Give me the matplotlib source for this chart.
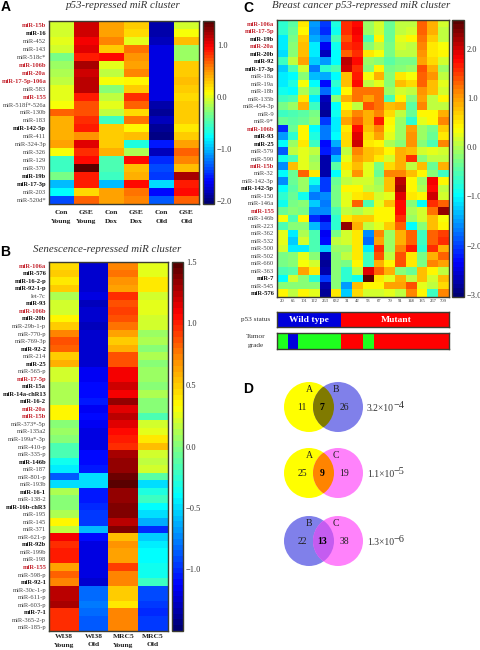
import numpy as np
import matplotlib
matplotlib.use("Agg")
import matplotlib.pyplot as plt
from matplotlib.colors import LinearSegmentedColormap, ListedColormap
from matplotlib.patches import Circle

W, H = 481, 650
SERIF = "Liberation Serif"
SANS = "Liberation Sans"
FRAME = "#3c3c30"
TXT = "#333333"
RED = "#c4222c"

# ---------- Panel A ----------
a_labels = ["miR-15b","miR-16","miR-452","miR-143","miR-518c*","miR-106b","miR-20a","miR-17-5p-106a",
            "miR-583","miR-155","miR-518f*-526a","miR-130b","miR-183","miR-142-5p","miR-411","miR-324-3p",
            "miR-326","miR-129","miR-370","miR-19b","miR-17-3p","miR-203","miR-520d*"]
a_red = {"miR-15b","miR-106b","miR-20a","miR-17-5p-106a","miR-155"}
a_bold = {"miR-16","miR-142-5p","miR-19b","miR-17-3p"}
a_cols = ["Con\nYoung","GSE\nYoung","Con\nDox","GSE\nDox","Con\nOld","GSE\nOld"]
a_vals = [
 [-.05,1.1,.45,.3,-1.85,-.05],[-.05,1.1,.45,.2,-1.85,.05],[0,1.0,.55,0,-1.8,.35],[-.05,1.05,.3,.6,-1.7,-.2],
 [-.3,.85,.95,.5,-1.7,-.2],[-.2,1.2,0,.45,-1.7,.3],[-.15,1.12,-.1,.55,-1.7,.3],[-.1,1.15,.08,.12,-1.7,.35],
 [.02,1.15,-.25,.3,-1.7,.3],[.02,.9,-.1,.8,-1.7,.22],[.05,.7,.02,.65,-1.85,.3],[.65,.7,-.1,.2,-1.9,.3],
 [.4,.8,-.55,.6,-1.8,.3],[.4,.85,.25,.1,-1.9,.18],[.4,.5,.3,.35,-1.95,.3],[.45,1.05,.25,-.65,-1.55,.45],
 [.08,.8,.4,-.15,-1.8,.65],[-.55,.95,-.5,.95,-1.45,.55],[-.55,1.4,-.5,.35,-1.35,.35],[-.35,.85,-.55,.4,-1.4,1.2],
 [-1.0,.88,-1.0,.95,-.9,.9],[-.75,.2,.45,.6,-1.6,.95],[-1.35,.65,.45,.55,-1.3,.65]]

# ---------- Panel B ----------
b_labels = ["miR-106a","miR-576","miR-16-2-p","miR-92-1-p","let-7c","miR-93","miR-106b","miR-20b","miR-29b-1-p",
            "miR-770-p","miR-769-3p","miR-92-2","miR-214","miR-25","miR-565-p","miR-17-5p","miR-15a","miR-14a-chR13",
            "miR-16-2","miR-20a","miR-15b","miR-373*-5p","miR-135a2","miR-199a*-3p","miR-410-p","miR-335-p","miR-146b",
            "miR-187","miR-801-p","miR-193b","miR-16-1","miR-138-2","miR-16b-chR3","miR-195","miR-145","miR-371",
            "miR-621-p","miR-92b","miR-199b","miR-198","miR-155","miR-598-p","miR-92-1","miR-30c-1-p","miR-611-p",
            "miR-603-p","miR-7-1","miR-365-2-p","miR-185-p"]
b_red = {"miR-106a","miR-106b","miR-17-5p","miR-20a","miR-15b","miR-155"}
b_bold = {"miR-576","miR-16-2-p","miR-92-1-p","miR-93","miR-20b","miR-92-2","miR-25","miR-15a","miR-14a-chR13",
          "miR-16-2","miR-146b","miR-16-1","miR-16b-chR3","miR-92b","miR-92-1","miR-7-1"}
b_cols = ["WI38\nYoung","WI38\nOld","MRC5\nYoung","MRC5\nOld"]
b_vals = [
 [.45,-1.25,.72,.28],[.48,-1.25,.75,.28],[.42,-1.25,.7,.42],[.5,-1.25,.65,.42],[.12,-1.2,.95,.22],[.22,-1.27,.88,.28],
 [.2,-1.22,.92,.28],[.36,-1.22,.88,.2],[.5,-1.27,.78,.2],[.72,-1.25,.65,.08],[.88,-1.22,.5,.12],[.82,-1.22,.6,.02],
 [.5,-1.22,.85,.1],[.6,-1.22,.85,.02],[.2,-1.15,1.1,.05],[.22,-1.15,1.12,.05],[.1,-1.1,1.2,.03],[.12,-1.1,1.12,.12],
 [.1,-1.05,1.35,0],[.36,-1.15,1.15,.02],[.36,-1.1,1.22,-.15],[0,-1.15,1.15,.22],[.05,-1.2,1.05,.28],[0,-1.2,1.0,.42],
 [-.15,-1.2,.98,.52],[-.15,-1.1,1.28,.2],[-.35,-1.1,1.32,.18],[-.45,-1.05,1.35,.22],[-.85,-.48,1.42,-.1],[-.5,-.5,1.47,-.5],
 [.12,-1.05,1.35,-.3],[0,-1.05,1.35,-.2],[.02,-1.0,1.38,-.4],[.1,-.95,1.38,-.5],[.36,-.95,1.25,-.65],[.15,-.6,1.38,-1.0],
 [1.1,-1.1,.55,-.55],[.95,-1.2,.7,-.45],[1.0,-1.2,.65,-.42],[1.0,-1.2,.65,-.4],[.65,-1.2,.92,-.35],[.8,-1.2,.72,-.33],
 [.72,-1.25,.72,-.2],[1.22,-.8,.48,-.92],[1.22,-.8,.5,-.92],[1.3,-.78,.38,-.95],[.98,-.8,.72,-1.0],[.98,-.88,.72,-.95],
 [.98,-.85,.72,-.95]]

# ---------- Panel C ----------
c_labels = ["miR-106a","miR-17-5p","miR-19b","miR-20a","miR-20b","miR-92","miR-17-3p","miR-18a","miR-19a","miR-18b",
            "miR-135b","miR-454-3p","miR-9","miR-9*","miR-106b","miR-93","miR-25","miR-579","miR-590","miR-15b","miR-32",
            "miR-142-3p","miR-142-5p","miR-150","miR-146a","miR-155","miR-146b","miR-223","miR-362","miR-532","miR-500",
            "miR-502","miR-660","miR-363","miR-7","miR-545","miR-576"]
c_red = {"miR-106a","miR-17-5p","miR-20a","miR-106b","miR-15b","miR-155"}
c_bold = {"miR-19b","miR-20b","miR-92","miR-17-3p","miR-93","miR-25","miR-142-5p","miR-7","miR-576"}
c_cols = ["20","65","101","122","263","632","31","42","53","67","79","91","148","185","267","709"]
c_vals = [
 [-.7,-.45,.5,-1.5,-2.0,-.8,1.6,1.75,-.05,.2,-.4,.05,.1,1.3,.85,.15],
 [-.75,-.4,.45,-1.55,-2.1,-.9,1.6,1.85,-.1,.2,-.4,.1,.2,1.3,.85,.1],
 [-1.1,-.25,.7,-1.45,-1.8,-.5,1.4,1.75,-.5,.4,-.35,.25,.4,1.2,.7,.1],
 [-1.1,-.2,.8,-1.05,-2.35,-.9,1.55,1.7,-.2,.1,-.3,.2,.05,1.1,.55,.35],
 [-1.15,-.15,.8,-1.1,-2.65,-.95,1.35,1.55,.55,.35,-.3,.1,.05,1.05,.55,.4],
 [-.6,.05,.95,-1.2,-1.5,-1.0,2.1,1.8,-.1,-.15,-.45,-.25,-.25,1.0,.6,.2],
 [-1.2,-.55,.15,-1.7,-.75,-.5,2.05,1.6,-.15,.45,-.3,-.15,-.1,1.4,.9,-.05],
 [-1.1,-1.0,-.2,-1.3,-1.45,-.95,.8,1.7,.35,.9,-.15,.55,.35,1.3,1.05,.05],
 [-1.1,-.8,.35,-1.0,-2.3,-.75,.8,1.75,.1,.3,-.2,.75,.65,1.35,.8,.3],
 [-.9,-1.0,0,-.55,-1.8,-1.0,.4,1.2,1.2,1.2,-.1,.2,.05,1.05,.8,.2],
 [-.65,-.55,.5,-1.1,-2.65,-.2,.85,1.25,1.0,1.25,-.55,.4,-.15,.95,.05,.4],
 [-.3,-.05,.9,-.6,-2.75,-1.0,.4,.05,1.4,1.2,.75,.9,-.45,1.1,.1,.05],
 [-.6,-.5,-.45,-.25,-2.8,-.9,.7,1.1,.85,1.1,.6,.1,-.4,.45,.45,.85],
 [-.4,-.45,-.4,-.15,-2.0,-1.1,1.0,1.35,.9,1.65,.45,-.05,-.75,.3,.4,1.1],
 [-2.1,-.35,.45,-1.0,-1.7,-1.05,.55,1.8,.8,1.1,.35,-.1,1.0,-.05,-.3,.7],
 [-1.5,-.75,.45,-.8,-1.65,-1.0,.6,1.95,.6,1.0,.3,-.05,1.05,-.1,-.4,.5],
 [-1.0,-.1,.5,-.6,-2.3,-1.4,.6,2.05,.5,.45,0,-.15,1.05,-.15,-.55,1.1],
 [-1.9,.1,.25,.05,-2.25,-1.9,.1,1.1,.8,.7,.45,.9,.8,.2,.25,.15],
 [-.85,-.5,.25,-.1,-2.75,-1.3,.25,1.0,.75,.5,.15,.9,1.55,-.15,.05,.1],
 [-1.6,.8,.3,0,-2.7,-.45,.55,.8,.3,-.3,.6,.9,.1,.8,-.4,.9],
 [-1.0,-.4,1.3,.5,-2.75,-.95,.3,1.05,.25,-.35,1.1,1.1,.8,.45,-.2,-.6],
 [-1.6,-.4,-.1,-.9,-2.0,-.35,.1,.2,.15,-.1,.75,2.1,.4,-.1,1.85,.45],
 [-1.0,-.45,-.1,-1.3,-2.0,-.3,.4,.4,.1,0,.8,2.2,.45,0,1.8,.1],
 [-.75,-.35,-.9,-1.7,-1.6,-.3,.25,.5,.65,.2,.3,1.9,.5,.4,2.05,.15],
 [-.9,-.3,-.2,-1.2,-1.7,-.3,.3,1.35,-.5,.25,.75,1.8,-.15,-1.0,1.6,1.3],
 [-.4,-.2,-.25,-1.6,-1.6,-.5,.05,0,.2,.4,.4,1.75,0,.15,1.25,2.3],
 [.35,-.55,.4,-2.1,-2.45,-.7,.5,.7,.7,.4,.4,1.6,-.05,.2,.8,.35],
 [-.5,-.2,-.2,-1.3,-2.0,-.7,2.3,.9,.05,.25,.7,1.3,-.95,-.15,.8,.4],
 [.3,-1.05,0,-.5,-2.4,-.3,.15,.5,-1.55,1.1,-.1,.9,1.35,-.6,1.3,1.5],
 [.25,-1.2,.15,-.5,-2.3,.1,.15,.5,-1.8,.95,-.1,.9,1.35,-.6,1.3,1.55],
 [.2,-1.1,-1.05,-.5,-1.25,-.1,-.1,.5,-1.1,1.55,-.1,1.15,1.65,-.7,1.55,.85],
 [-.3,-.2,.25,-.15,-2.75,-.15,.1,.5,-.6,1.4,.05,1.45,.55,-.25,.9,1.3],
 [-.3,-.2,.35,.15,-2.8,-.15,-.3,.45,-.6,.9,.4,1.4,.55,-.25,1.1,.95],
 [-.5,-.45,.95,.5,-2.75,-.15,-.7,.1,1.9,1.3,.85,-.15,-.35,.75,.45,.1],
 [-1.0,.2,-.15,-.7,-2.0,-.15,-.75,-.9,2.55,.5,.25,.9,.1,.8,.15,.8],
 [-.2,-.2,-.2,-.2,-2.7,-.2,-1.5,.8,.4,.4,.95,.95,1.4,.3,.05,.6],
 [.4,.1,.45,.3,-2.8,.55,-1.2,.65,.15,.2,.3,.05,1.1,.4,-.6,1.15]]
p53_status = [0]*6 + [1]*10
tumor_grade = [1,0,1,1,1,1,2,2,1,2,2,2,2,2,2,2]

# ---------- Panel D ----------
venn_sets = [("A","B"),("A","C"),("B","C")]
venn_counts = [(11,7,26),(25,9,19),(22,13,38)]
venn_p = [("3.2","\u22124"),("1.1","\u22125"),("1.3","\u22126")]

cmap = LinearSegmentedColormap.from_list("hm", [
    (0.00,(0,0,.45)),(0.12,(0,0,1)),(0.365,(0,1,1)),(0.50,(.5,1,.5)),
    (0.61,(1,1,0)),(0.74,(1,.55,0)),(0.865,(1,0,0)),(1.00,(.35,0,0))], N=64)

fig = plt.figure(figsize=(W/100, H/100), dpi=100)
fig.patch.set_facecolor("white")

def px_ax(x0, y0, x1, y1, **kw):
    return fig.add_axes([x0/W, 1-y1/H, (x1-x0)/W, (y1-y0)/H], **kw)

def T(x, y, s, **kw):
    kw.setdefault("family", SERIF)
    kw.setdefault("ha", "center")
    kw.setdefault("va", "center")
    kw.setdefault("color", TXT)
    fig.text(x/W, 1-y/H, s, **kw)

def frame(ax):
    for s in ax.spines.values():
        s.set_color(FRAME); s.set_linewidth(1.0)

def heat(box, cbox, vals, labels, red, bold, vmin, vmax, ticks, lab_size, tick_size):
    ax = px_ax(*box)
    im = ax.imshow(np.array(vals), cmap=cmap, vmin=vmin, vmax=vmax, aspect="auto", interpolation="nearest")
    ax.set_xticks([])
    ax.set_yticks(range(len(labels)))
    ax.set_yticklabels(labels, family=SERIF, fontsize=lab_size)
    ax.tick_params(axis="y", length=0, pad=2)
    for t, name in zip(ax.get_yticklabels(), labels):
        if name in red:
            t.set_color(RED); t.set_fontweight("bold")
        elif name in bold:
            t.set_color("#111111"); t.set_fontweight("bold")
        else:
            t.set_color("#444444")
    frame(ax)
    cax = px_ax(*cbox)
    cb = fig.colorbar(im, cax=cax)
    cb.set_ticks(ticks)
    cb.set_ticklabels([f"{t:.1f}".replace("-", "\u2212") for t in ticks])
    cax.tick_params(length=0, pad=2, labelsize=tick_size, labelcolor=TXT)
    for t in cax.get_yticklabels():
        t.set_family(SERIF)
    cb.outline.set_edgecolor(FRAME); cb.outline.set_linewidth(1.0)
    return ax

# Panel A
axA = heat((49,21,199,204),(203,21,214,204),a_vals,a_labels,a_red,a_bold,-2.05,1.45,[1,0,-1,-2],4.7,6)
for i, c in enumerate(a_cols):
    cx = 49 + (i+.5)*150/len(a_cols)
    for j, l in enumerate(c.split("\n")):
        T(cx, 212+9*j, l, fontsize=5.4, fontweight="bold", color="#222222")
T(123, 5.5, "p53-repressed miR cluster", fontsize=7.8, style="italic")
T(5.5, 7, "A", family=SANS, fontsize=10, fontweight="bold", color="black")

# Panel B
axB = heat((49,262,168,631),(172,262,183,631),b_vals,b_labels,b_red,b_bold,-1.5,1.5,[1.5,1,.5,0,-.5,-1],4.7,6)
for i, c in enumerate(b_cols):
    cx = 49 + (i+.5)*119/len(b_cols)
    for j, l in enumerate(c.split("\n")):
        T(cx, 636+9*j, l, fontsize=5.4, fontweight="bold", color="#222222")
T(107, 249, "Senescence-repressed miR cluster", fontsize=7.8, style="italic")
T(5.5, 252, "B", family=SANS, fontsize=10, fontweight="bold", color="black")

# Panel C
axC = heat((277,20,449,297),(452,20,464,297),c_vals,c_labels,c_red,c_bold,-3.05,2.6,[2,1,0,-1,-2,-3],4.7,6)
axC.set_xticks(range(len(c_cols)))
axC.set_xticklabels(c_cols, family=SERIF, fontsize=3.3, color="#333333")
axC.tick_params(axis="x", length=0, pad=1.5)
T(361, 5.5, "Breast cancer p53-repressed miR cluster", fontsize=7.8, style="italic")
T(248, 8, "C", family=SANS, fontsize=10, fontweight="bold", color="black")

# p53 status / tumor grade tracks
axS = px_ax(277,312,449,327)
axS.imshow([p53_status], cmap=ListedColormap(["#0000dc","#ff0000"]), vmin=0, vmax=1, aspect="auto", interpolation="nearest")
axS.set_xticks([]); axS.set_yticks([]); frame(axS)
axG = px_ax(277,333,449,349)
axG.imshow([tumor_grade], cmap=ListedColormap(["#0000dc","#1eff1e","#ff0000"]), vmin=0, vmax=2, aspect="auto", interpolation="nearest")
axG.set_xticks([]); axG.set_yticks([]); frame(axG)
T(309, 320, "Wild type", fontsize=6.8, fontweight="bold", color="white")
T(396, 320, "Mutant", fontsize=6.8, fontweight="bold", color="white")
T(256, 320, "p53 status", fontsize=5.2)
T(256, 337, "Tumor", fontsize=5.2)
T(256, 346, "grade", fontsize=5.2)

# Panel D
T(248, 388.5, "D", family=SANS, fontsize=10, fontweight="bold", color="black")
ov = px_ax(0,0,W,H)
ov.set_xlim(0,W); ov.set_ylim(H,0); ov.axis("off"); ov.patch.set_alpha(0)
vcol = {"A":"#ffff00","B":"#8080ea","C":"#ff82fb"}
ovcol = {("A","B"):"#807a00",("A","C"):"#ff8400",("B","C"):"#c45cf0"}
centers_y = [407,473,541]
letter_y = [389,456,523]
for (s1,s2),(n1,n2,n3),(pm,pe),cy,ly in zip(venn_sets,venn_counts,venn_p,centers_y,letter_y):
    c1 = Circle((309,cy),25,fc=vcol[s1],ec="none"); ov.add_patch(c1)
    c2 = Circle((338,cy),25,fc=vcol[s2],ec="none"); ov.add_patch(c2)
    c3 = Circle((309,cy),25,fc=ovcol[(s1,s2)],ec="none"); ov.add_patch(c3)
    c3.set_clip_path(Circle((338,cy),25,transform=ov.transData))
    T(309,ly,s1,fontsize=7,color="#222222")
    T(336,ly,s2,fontsize=7,color="#222222")
    T(302,cy,str(n1),fontsize=7,color="#222222")
    T(322,cy,str(n2),fontsize=7,fontweight="bold",color="black")
    T(344,cy,str(n3),fontsize=7,color="#222222")
    T(367,cy+1.5,f"{pm}\u00d710",fontsize=6.9,ha="left")
    T(394,cy-1.5,pe,fontsize=7.4,ha="left")

fig.savefig("out.png", dpi=100, facecolor="white")
